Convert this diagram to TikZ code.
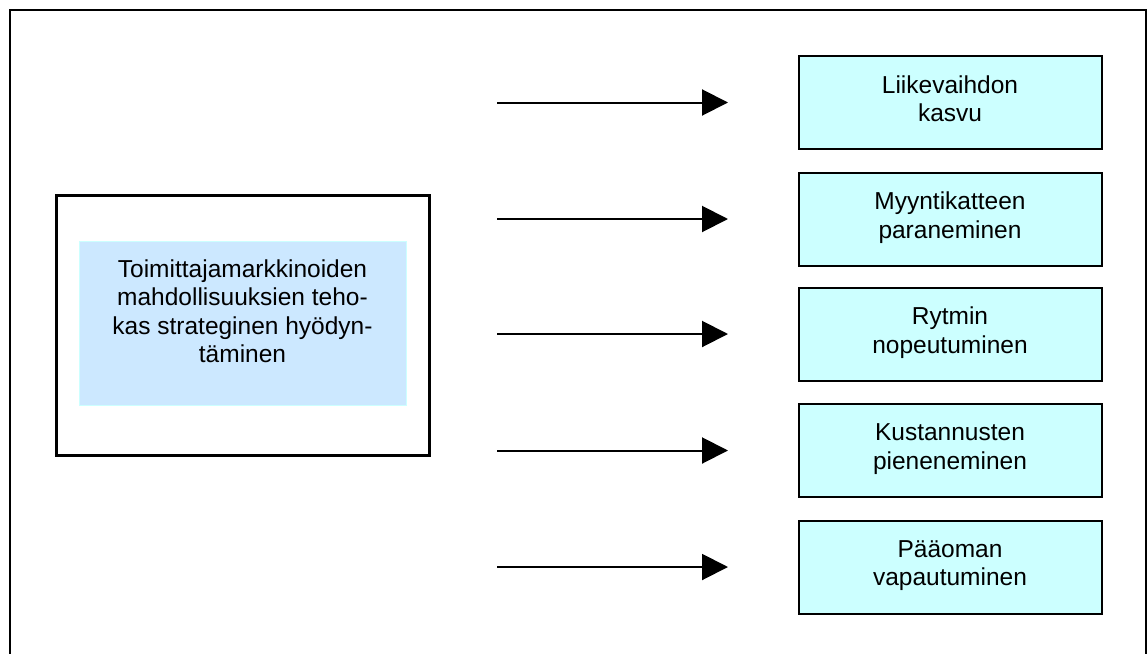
\documentclass[tikz,border=0pt]{standalone}
\usepackage{fontspec}
\setmainfont{Liberation Sans}
\usetikzlibrary{arrows.meta}
\definecolor{skyfill}{HTML}{CCE8FF}
\definecolor{skyedge}{HTML}{CCFFFF}
\definecolor{cyanfill}{HTML}{CCFFFF}
\tikzset{
  goalbox/.style={draw=black, line width=2pt, fill=cyanfill,
    minimum width=303pt, minimum height=93pt, inner sep=0pt},
  goaltext/.style={align=center, font=\fontsize{24.5}{28.5}\selectfont, inner sep=0pt},
  effect/.style={line width=2pt, -{Triangle[length=26pt,width=26pt]}},
}
\begin{document}
\begin{tikzpicture}[x=1pt,y=-1pt]
\useasboundingbox (0,0) rectangle (1148,653);
% outer frame, open at the bottom edge
\draw[line width=2pt] (10,670) -- (10,10) -- (1146,10) -- (1146,670);

% source box on the left
\node[draw=black, line width=3pt, minimum width=373pt, minimum height=260pt, inner sep=0pt]
  (src) at (242.5,325) {};
\node[draw=skyedge, line width=1pt, fill=skyfill, minimum width=327pt, minimum height=164pt, inner sep=0pt]
  (srcin) at (242.5,323) {};
\node[goaltext] (srctext) at (242.5,311) {Toimittajamarkkinoiden\\mahdollisuuksien teho-\\kas strateginen hyödyn-\\täminen};

% outcome boxes (the phantom keeps every two-line block at the same depth)
\foreach \i/\y/\t in {1/102.5/{Liikevaihdon\\kasvu},
                      2/219/{Myyntikatteen\\paraneminen},
                      3/334/{Rytmin\\nopeutuminen},
                      4/450.5/{Kustannusten\\pieneneminen},
                      5/567/{Pääoman\\vapautuminen}}{
  \node[goalbox] (g\i) at (950,\y) {};
  \node[goaltext] (gt\i) at (950,\y-1.5) {\t\vphantom{p}};
  \coordinate (a\i) at (497,\y);
  \coordinate (b\i) at (728,\y);
  \draw[effect] (a\i) -- (b\i);
}
\end{tikzpicture}
\end{document}
